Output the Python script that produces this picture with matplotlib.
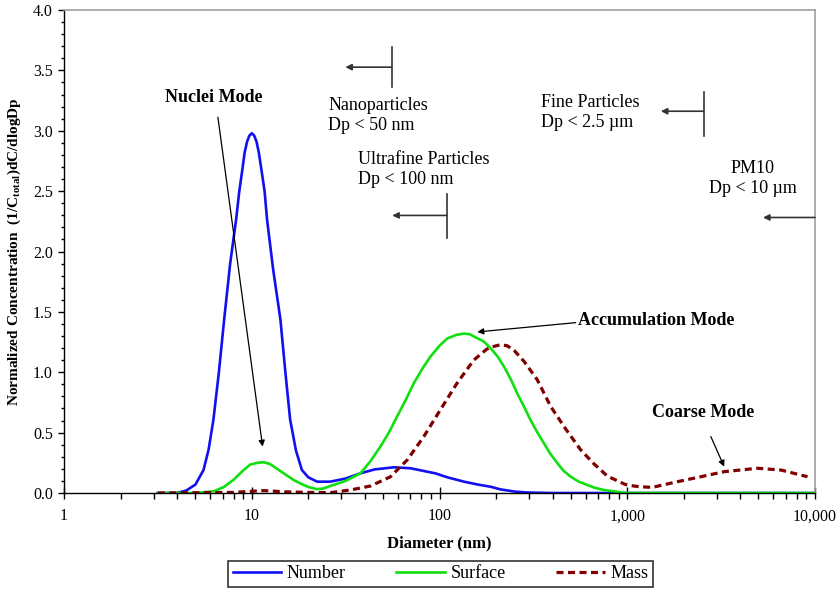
import matplotlib
matplotlib.use("Agg")
from matplotlib import pyplot as plt
from matplotlib.ticker import FixedLocator, FuncFormatter, MultipleLocator

# Data (diameter in nm, normalized concentration)
number_d = [3.16, 3.98, 4.47, 5.01, 5.53, 5.89, 6.25, 6.68, 7.13, 7.67, 8.26, 8.58, 8.91, 9.16,
            9.44, 9.71, 10.0, 10.3, 10.6, 10.9, 11.2, 11.7, 12.05, 13.0, 14.2, 15.1, 16.0, 17.2,
            18.5, 20.0, 22.3, 26.2, 31.6, 37.9, 45.0, 57.0, 70.0, 95.0, 110, 135, 160, 187, 211,
            251, 294, 400, 1000, 10000]
number_v = [0.0, 0.0, 0.02, 0.07, 0.19, 0.36, 0.61, 1.0, 1.44, 1.9, 2.27, 2.5, 2.68, 2.82,
            2.91, 2.96, 2.98, 2.96, 2.91, 2.82, 2.7, 2.5, 2.27, 1.85, 1.44, 1.0, 0.61, 0.35,
            0.19, 0.13, 0.094, 0.094, 0.12, 0.163, 0.195, 0.213, 0.205, 0.163, 0.13, 0.094, 0.07,
            0.052, 0.03, 0.012, 0.004, 0.0, 0.0, 0.0]

surface_d = [3.16, 5.0, 6.3, 7.1, 8.0, 8.9, 9.8, 10.7, 11.6, 12.5, 13.2, 14.8, 16.7, 18.1, 20.0,
             22.2, 24.0, 26.2, 31.6, 37.9, 42.7, 48.4, 53.7, 59.4, 66.0, 73.0, 81.0, 89.5, 100,
             110, 123, 135, 145, 152, 172, 187, 204, 220, 240, 259, 282, 305, 331, 360, 389, 425,
             457, 500, 550, 614, 676, 752, 923, 1000, 10000]
surface_v = [0.0, 0.0, 0.015, 0.05, 0.11, 0.18, 0.235, 0.25, 0.255, 0.24, 0.215, 0.163, 0.108,
             0.08, 0.05, 0.032, 0.037, 0.058, 0.1, 0.163, 0.26, 0.384, 0.5, 0.633, 0.77, 0.91,
             1.03, 1.13, 1.22, 1.28, 1.31, 1.32, 1.315, 1.297, 1.255, 1.2, 1.13, 1.05, 0.94, 0.827,
             0.715, 0.606, 0.505, 0.412, 0.325, 0.246, 0.185, 0.135, 0.095, 0.066, 0.042, 0.025,
             0.006, 0.0, 0.0]

mass_d = [3.16, 8.0, 11.5, 15.0, 20.0, 26.2, 33.5, 42.9, 54.8, 67.3, 82.4, 101, 124, 152, 178,
          190, 211, 229, 250, 282, 331, 391, 470, 565, 666, 723, 783, 962, 1000, 1156, 1361, 1854,
          2466, 3289, 4943, 6592, 9120]
mass_v = [0.0, 0.005, 0.02, 0.01, 0.005, 0.003, 0.025, 0.058, 0.135, 0.274, 0.467, 0.689, 0.91,
          1.1, 1.19, 1.21, 1.228, 1.22, 1.18, 1.09, 0.94, 0.716, 0.53, 0.357, 0.24, 0.19, 0.14,
          0.075, 0.066, 0.052, 0.047, 0.094, 0.135, 0.177, 0.205, 0.19, 0.135]

x_ticks = [1, 10, 100, 1000, 10000]
x_ticklabels = ["1", "10", "100", "1,000", "10,000"]

plt.rcParams["font.family"] = "Liberation Serif"
plt.rcParams["mathtext.fontset"] = "custom"
plt.rcParams["mathtext.rm"] = "Liberation Serif:bold"

fig = plt.figure(figsize=(8.36, 5.91), dpi=100)
ax = fig.add_axes([0.0766, 0.1658, 0.8983, 0.8172])

ax.plot(number_d, number_v, color="#1010f0", lw=1.9, label="Number")
ax.plot(surface_d, surface_v, color="#10e010", lw=1.9, label="Surface")
ax.plot(mass_d, mass_v, color="#800000", lw=2.3, dashes=(2.2, 1.4), label="Mass")

ax.set_xscale("log")
ax.set_xlim(1, 10000)
ax.set_ylim(0, 4.0)

# Axes styling
for side in ["top", "right"]:
    ax.spines[side].set_color("#a0a0a0")
    ax.spines[side].set_linewidth(1.2)
for side in ["left", "bottom"]:
    ax.spines[side].set_color("black")
    ax.spines[side].set_linewidth(1.0)

ax.xaxis.set_major_locator(FixedLocator(x_ticks))
ax.xaxis.set_major_formatter(FuncFormatter(lambda v, p: x_ticklabels[x_ticks.index(round(v))] if round(v) in x_ticks else ""))
ax.yaxis.set_major_locator(MultipleLocator(0.5))
ax.yaxis.set_minor_locator(MultipleLocator(0.1))
ax.yaxis.set_major_formatter(FuncFormatter(lambda v, p: "%.1f" % v))
ax.tick_params(axis="x", which="major", direction="inout", length=8, width=1, labelsize=11.5, pad=7)
ax.tick_params(axis="x", which="minor", direction="out", length=4, width=1, labelbottom=False)
ax.tick_params(axis="y", which="major", direction="out", length=4, width=1, labelsize=11.5, pad=4)
ax.tick_params(axis="y", which="minor", direction="out", length=2.5, width=1)

ax.set_xlabel("Diameter (nm)", fontsize=12, fontweight="bold", labelpad=8)
ax.set_ylabel(r"Normalized Concentration  (1/C$_{\mathrm{total}}$)dC/dlogDp",
              fontsize=11, fontweight="bold", labelpad=7)

# Mode annotations
arrow = dict(arrowstyle="-|>", color="black", lw=0.9, mutation_scale=9, shrinkA=0, shrinkB=0)
ax.text(6.31, 3.278, "Nuclei Mode", fontsize=13, fontweight="bold", ha="center", va="center")
ax.annotate("", xy=(11.42, 0.384), xytext=(6.60, 3.112), arrowprops=arrow)
ax.text(1419, 1.43, "Accumulation Mode", fontsize=13, fontweight="bold", ha="center", va="center")
ax.annotate("", xy=(159, 1.334), xytext=(531, 1.411), arrowprops=arrow)
ax.text(2542, 0.664, "Coarse Mode", fontsize=13, fontweight="bold", ha="center", va="center")
ax.annotate("", xy=(3283, 0.218), xytext=(2788, 0.467), arrowprops=arrow)

# Size range markers
mark = dict(arrowstyle="-|>", color="#333333", lw=1.2, mutation_scale=9, shrinkA=0, shrinkB=0)
ax.text(25.6, 3.129, "Nanoparticles\nDp < 50 nm", fontsize=13, ha="left", va="center", linespacing=1.25)
ax.plot([55.5, 55.5], [3.36, 3.69], color="#333333", lw=1.2)
ax.annotate("", xy=(31.5, 3.527), xytext=(55.5, 3.527), arrowprops=mark)

ax.text(37, 2.68, "Ultrafine Particles\nDp < 100 nm", fontsize=13, ha="left", va="center", linespacing=1.25)
ax.plot([109, 109], [2.116, 2.473], color="#333333", lw=1.2)
ax.annotate("", xy=(56, 2.299), xytext=(109, 2.299), arrowprops=mark)

ax.text(346, 3.149, "Fine Particles\nDp < 2.5 \u00b5m", fontsize=13, ha="left", va="center", linespacing=1.25)
ax.plot([2548, 2548], [2.954, 3.32], color="#333333", lw=1.2)
ax.annotate("", xy=(1510, 3.162), xytext=(2548, 3.162), arrowprops=mark)

ax.text(4670, 2.602, "PM10\nDp < 10 \u00b5m", fontsize=13, ha="center", va="center", linespacing=1.25)
ax.annotate("", xy=(5285, 2.282), xytext=(10000, 2.282), arrowprops=mark)

leg = fig.legend(loc="center", bbox_to_anchor=(0.527, 0.0288), ncol=3, fontsize=13,
                 frameon=True, fancybox=False, edgecolor="black", handlelength=2.7,
                 handletextpad=0.3, columnspacing=2.8, borderpad=0.25)
leg.get_frame().set_linewidth(1.2)

fig.savefig("out.png", dpi=100)
